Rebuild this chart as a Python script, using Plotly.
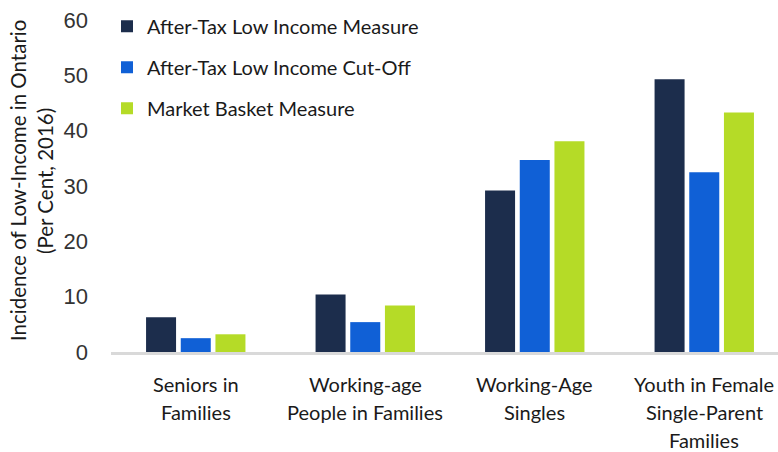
import plotly.graph_objects as go

# Low-income incidence in Ontario, 2016 (per cent)
categories = [
    "Seniors in<br>Families",
    "Working-age<br>People in Families",
    "Working-Age<br>Singles",
    "Youth in Female<br>Single-Parent<br>Families",
]
series_names = [
    "After-Tax Low Income Measure",
    "After-Tax Low Income Cut-Off",
    "Market Basket Measure",
]
lim_values = [6.3, 10.4, 29.2, 49.3]
lico_values = [2.5, 5.4, 34.7, 32.5]
mbm_values = [3.2, 8.4, 38.1, 43.3]
y_ticks = [0, 10, 20, 30, 40, 50, 60]
y_title_lines = ["Incidence of Low-Income in Ontario", "(Per Cent, 2016)"]

colors = ["#1c2d4c", "#1060d6", "#b5db27"]
values = [lim_values, lico_values, mbm_values]

text_font = "Lato"
text_size = 20
fig = go.Figure()
for i, (name, vals, col) in enumerate(zip(series_names, values, colors)):
    fig.add_trace(go.Bar(
        x=categories, y=vals, name=name, legendgroup=f"g{i}",
        marker=dict(color=col, line=dict(width=0)),
    ))

# category labels, one annotation per line for wider line spacing
annotations = []
for cat in categories:
    for j, line in enumerate(cat.split("<br>")):
        annotations.append(dict(
            x=cat, xref="x", y=0, yref="paper", yanchor="middle",
            yshift=-32 - 28 * j, text=line, showarrow=False,
            font=dict(family=text_font, size=text_size, color="#1a1a1a"),
        ))

# rotated y-axis title, two lines
for j, line in enumerate(y_title_lines):
    annotations.append(dict(
        x=0, xref="paper", xanchor="center", xshift=-93 + 27 * j,
        y=0.5, yref="paper", yanchor="middle", yshift=5,
        text=line, textangle=-90, showarrow=False,
        font=dict(family=text_font, size=20.5, color="#1a1a1a"),
    ))

fig.update_layout(
    width=778, height=452,
    margin=dict(l=111, r=0, t=20, b=100),
    paper_bgcolor="white", plot_bgcolor="white",
    barmode="group", bargap=0.386, bargroupgap=0.135,
    showlegend=True,
    legend=dict(
        x=-0.006, y=1.040, xanchor="left", yanchor="top",
        font=dict(family=text_font, size=text_size, color="#1a1a1a"),
        tracegroupgap=12, bgcolor="rgba(0,0,0,0)",
    ),
    xaxis=dict(
        type="category", range=[-0.5, 3.435],
        showticklabels=False, ticks="",
        showline=True, linecolor="#d9d9d9", linewidth=3,
        showgrid=False, zeroline=False,
    ),
    yaxis=dict(
        range=[0, 60], tickvals=y_ticks, showgrid=False, zeroline=False,
        showline=False, ticks="", ticklabelstandoff=22,
        tickfont=dict(family="Liberation Sans", size=22, color="#333333"),
    ),
    annotations=annotations,
)

fig.write_html("out.html")
